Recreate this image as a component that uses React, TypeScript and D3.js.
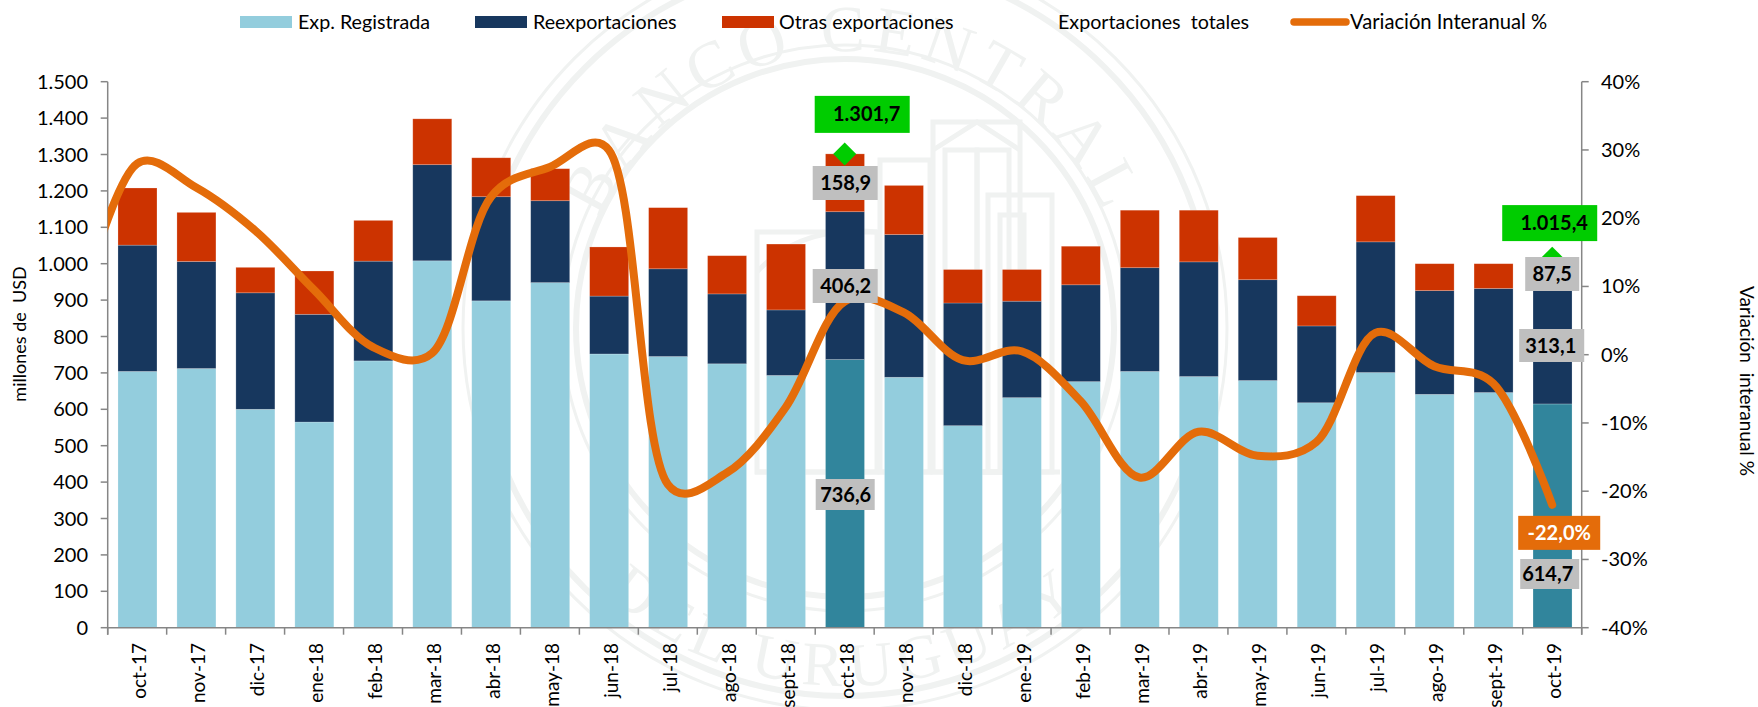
import React from "react";
import * as d3 from "d3";

const categories = ["oct-17","nov-17","dic-17","ene-18","feb-18","mar-18","abr-18","may-18","jun-18","jul-18","ago-18","sept-18","oct-18","nov-18","dic-18","ene-19","feb-19","mar-19","abr-19","may-19","jun-19","jul-19","ago-19","sept-19","oct-19"];
const registrada = [704,712,600,565,733,1008,898,948,752,745,725,693,736.6,688,555,632,676,704,690,679,618,701,641,646,614.7];
const reexport = [347,294,320,296,274,264,286,225,159,241,192,180,406.2,392,337,265,266,285,315,277,211,359,285,286,313.1];
const otras = [157,135,70,119,112,126,107,88,135,168,105,181,158.9,135,92,87,106,158,142,116,83,127,74,68,87.5];
const variacionLead = 6;
const variacion = [28,24.5,18.2,9.5,1.1,0.2,23.1,27.5,30,-19,-17.3,-7.7,7.8,6.2,-0.8,0.5,-6.8,-18,-11.3,-14.8,-12.8,3.2,-1.7,-4.2,-22];
const highlighted = ["oct-18","oct-19"];
const leftTicks = d3.range(0, 1501, 100);
const rightTicks = d3.range(-40, 41, 10);

const legendBars = [
  { label: "Exp. Registrada", color: "#93CDDD", x: 240, tx: 298 },
  { label: "Reexportaciones", color: "#17375E", x: 475, tx: 533 },
  { label: "Otras exportaciones", color: "#CC3300", x: 722, tx: 779 },
];

const FONT = "Lato, sans-serif";
const W = 1758, H = 707;
const L = 107.7, R = 1581.7, T = 81.7, B = 627.7;
const AXIS = "#868686";
const WM = "#f0f2f1";

const x = d3.scaleBand<string>().domain(categories).range([L, R]);
const step = x.step();
const barW = 39;
const cx = (c: string) => (x(c) as number) + step / 2;
const y = d3.scaleLinear().domain([0, 1500]).range([B, T]);
const y2 = d3.scaleLinear().domain([-40, 40]).range([B, T]);

const fmtThousand = (v: number) => (v >= 1000 ? `${Math.floor(v / 1000)}.${String(v % 1000).padStart(3, "0")}` : String(v));
const fmtDec = (v: number) => {
  const s = v.toFixed(1).replace(".", ",");
  const [a, b] = s.split(",");
  return a.length > 3 ? `${a.slice(0, -3)}.${a.slice(-3)},${b}` : s;
};

const lineGen = d3.line<number>()
  .x((_, i) => cx(categories[0]) + (i - 1) * step)
  .y((d) => y2(d))
  .curve(d3.curveCatmullRom.alpha(0.3));

const circlePath = (cxx: number, cyy: number, r: number, sweep: 0 | 1) =>
  `M${cxx - r},${cyy}A${r},${r} 0 1 ${sweep} ${cxx + r},${cyy}`;

function Watermark() {
  const c = { x: 845, y: 328 };
  const rects = [
    [933, 122, 87, 350], [945, 150, 32, 322], [977, 150, 32, 322],
    [988, 195, 64, 277], [1000, 215, 24, 257],
    [880, 160, 50, 312], [757, 232, 120, 240],
  ];
  return (
    <g fill="none" stroke={WM}>
      {[[269, 6], [283, 3], [368, 6], [382, 3]].map(([r, w]) => (
        <circle key={r} cx={c.x} cy={c.y} r={r} strokeWidth={w} />
      ))}
      <g>
        <path d={`M${c.x - 90},472H1060`} strokeWidth={5} />
        {rects.map((r, i) => (
          <rect key={i} x={r[0]} y={r[1]} width={r[2]} height={r[3]} strokeWidth={5} />
        ))}
        <path d="M933,150L977,122L1020,150" strokeWidth={5} />
        <path d="M757,272Q800,225 877,232" strokeWidth={5} />
      </g>
      <defs>
        <path id="wmTop" d={circlePath(c.x + 8, c.y, 277, 1)} />
        <path id="wmBottom" d={circlePath(c.x, c.y, 358, 0)} />
      </defs>
      <text fontFamily="'Liberation Serif', serif" fontSize={66} fill={WM} stroke="none" textAnchor="middle" letterSpacing={7}>
        <textPath href="#wmTop" startOffset="50%">BANCO CENTRAL</textPath>
      </text>
      <text fontFamily="'Liberation Serif', serif" fontSize={62} fill={WM} stroke="none" textAnchor="middle" letterSpacing={8}>
        <textPath href="#wmBottom" startOffset="50%">DEL URUGUAY</textPath>
      </text>
    </g>
  );
}

type Note = { cat: string; value: number; scale: (v: number) => number; dx0: number; dx1: number; dy0: number; dy1: number; fill: string; color: string; text: string; tx: number };

const total = (i: number) => registrada[i] + reexport[i] + otras[i];
const iA = categories.indexOf("oct-18");
const iB = categories.indexOf("oct-19");
const notes: Note[] = [
  { cat: "oct-18", value: 1301.7, scale: y, dx0: -30, dx1: 65, dy0: -58, dy1: -21, fill: "#00CC00", color: "#000", text: fmtDec(1301.7), tx: 4.5 },
  { cat: "oct-18", value: otras[iA], scale: () => 183, dx0: -32, dx1: 33, dy0: -17, dy1: 17, fill: "#BFBFBF", color: "#000", text: fmtDec(otras[iA]), tx: 0.5 },
  { cat: "oct-18", value: reexport[iA], scale: () => 286, dx0: -32, dx1: 33, dy0: -17, dy1: 17, fill: "#BFBFBF", color: "#000", text: fmtDec(reexport[iA]), tx: 0.5 },
  { cat: "oct-18", value: registrada[iA], scale: () => 494.5, dx0: -29, dx1: 30, dy0: -15.5, dy1: 15.5, fill: "#BFBFBF", color: "#000", text: fmtDec(registrada[iA]), tx: 0.5 },
  { cat: "oct-19", value: 1015.4, scale: y, dx0: -50, dx1: 45, dy0: -53, dy1: -17, fill: "#00CC00", color: "#000", text: fmtDec(1015.4), tx: 4.5 },
  { cat: "oct-19", value: otras[iB], scale: () => 274, dx0: -27, dx1: 27, dy0: -17, dy1: 17, fill: "#BFBFBF", color: "#000", text: fmtDec(otras[iB]), tx: 0 },
  { cat: "oct-19", value: reexport[iB], scale: () => 345.5, dx0: -33, dx1: 32, dy0: -16.5, dy1: 16.5, fill: "#BFBFBF", color: "#000", text: fmtDec(reexport[iB]), tx: -1 },
  { cat: "oct-19", value: variacion[iB], scale: y2, dx0: -34, dx1: 48, dy0: 11, dy1: 45, fill: "#E46C0A", color: "#fff", text: `${fmtDec(variacion[iB])}%`, tx: 0 },
  { cat: "oct-19", value: registrada[iB], scale: () => 574, dx0: -32, dx1: 27, dy0: -15, dy1: 15, fill: "#BFBFBF", color: "#000", text: fmtDec(registrada[iB]), tx: -2 },
];

export default function App() {
  const text = { fontFamily: FONT, fill: "#000" } as const;
  return (
    <svg width={W} height={H} viewBox={`0 0 ${W} ${H}`} style={{ position: "absolute", left: 0, top: 0, display: "block", background: "#fff" }}>
      <defs>
        <clipPath id="plot"><rect x={L} y={0} width={R - L + 10} height={H} /></clipPath>
      </defs>
      <Watermark />

      {categories.map((c, i) => {
        const hi = highlighted.includes(c);
        const a = registrada[i], b = a + reexport[i], t = b + otras[i];
        const bx = cx(c) - barW / 2 + 0.3;
        const seg = [
          { y0: 0, y1: a, fill: hi ? "#31859C" : "#93CDDD" },
          { y0: a, y1: b, fill: "#17375E" },
          { y0: b, y1: t, fill: "#CC3300" },
        ];
        return (
          <g key={c}>
            {seg.map((s, k) => (
              <rect key={k} x={bx} y={y(s.y1)} width={barW} height={y(s.y0) - y(s.y1)} fill={s.fill} stroke="#fff" strokeOpacity={0.3} strokeWidth={0.7} />
            ))}
          </g>
        );
      })}

      {highlighted.map((c) => {
        const i = categories.indexOf(c);
        const v = total(i);
        const px = cx(c), py = y(v), r = 11.5;
        return <path key={c} d={`M${px},${py - r}L${px + r},${py}L${px},${py + r}L${px - r},${py}Z`} fill="#00CC00" />;
      })}

      <g stroke={AXIS} strokeWidth={1.5}>
        <line x1={L} x2={L} y1={T} y2={B + 7} />
        {leftTicks.map((t) => <line key={t} x1={L - 7} x2={L} y1={y(t)} y2={y(t)} />)}
        <line x1={L} x2={R} y1={B} y2={B} />
        {d3.range(categories.length + 1).map((i) => <line key={i} x1={L + i * step} x2={L + i * step} y1={B} y2={B + 7} />)}
        <line x1={R} x2={R} y1={T} y2={B + 7} />
        {rightTicks.map((t) => <line key={t} x1={R} x2={R + 7} y1={y2(t)} y2={y2(t)} />)}
      </g>

      {leftTicks.map((t) => (
        <text key={t} {...text} x={88} y={y(t) + 7} textAnchor="end" fontSize={20}>{fmtThousand(t)}</text>
      ))}
      {rightTicks.map((t) => (
        <text key={t} {...text} x={1601} y={y2(t) + 7} fontSize={20}>{`${t}%`}</text>
      ))}
      {categories.map((c) => (
        <text key={c} {...text} transform={`translate(${cx(c) + 9},643) rotate(-90)`} textAnchor="end" fontSize={19}>{c}</text>
      ))}

      <text {...text} transform="translate(26,334) rotate(-90)" textAnchor="middle" fontSize={18} xmlSpace="preserve">millones de  USD</text>
      <text {...text} transform="translate(1740,381) rotate(90)" textAnchor="middle" fontSize={19} xmlSpace="preserve">Variación  interanual %</text>

      <path d={lineGen([variacionLead, ...variacion]) as string} fill="none" stroke="#E46C0A" strokeWidth={8} strokeLinecap="round" strokeLinejoin="round" clipPath="url(#plot)" />

      {notes.map((n, i) => {
        const px = cx(n.cat), py = n.scale(n.value);
        return (
          <g key={i}>
            <rect x={px + n.dx0} y={py + n.dy0} width={n.dx1 - n.dx0} height={n.dy1 - n.dy0} fill={n.fill} />
            <text x={px + (n.dx0 + n.dx1) / 2 + n.tx} y={py + (n.dy0 + n.dy1) / 2 + 7} textAnchor="middle" fontFamily={FONT} fontWeight={700} fontSize={20} fill={n.color}>{n.text}</text>
          </g>
        );
      })}

      {legendBars.map((l) => (
        <g key={l.label}>
          <rect x={l.x} y={16} width={52} height={12} fill={l.color} />
          <text {...text} x={l.tx} y={29} fontSize={19.7}>{l.label}</text>
        </g>
      ))}
      <text {...text} x={1058} y={29} fontSize={19.7} xmlSpace="preserve">Exportaciones  totales</text>
      <line x1={1294} x2={1346} y1={22} y2={22} stroke="#E46C0A" strokeWidth={7.5} strokeLinecap="round" />
      <text {...text} x={1350} y={29} fontSize={20.2}>Variación Interanual %</text>
    </svg>
  );
}
